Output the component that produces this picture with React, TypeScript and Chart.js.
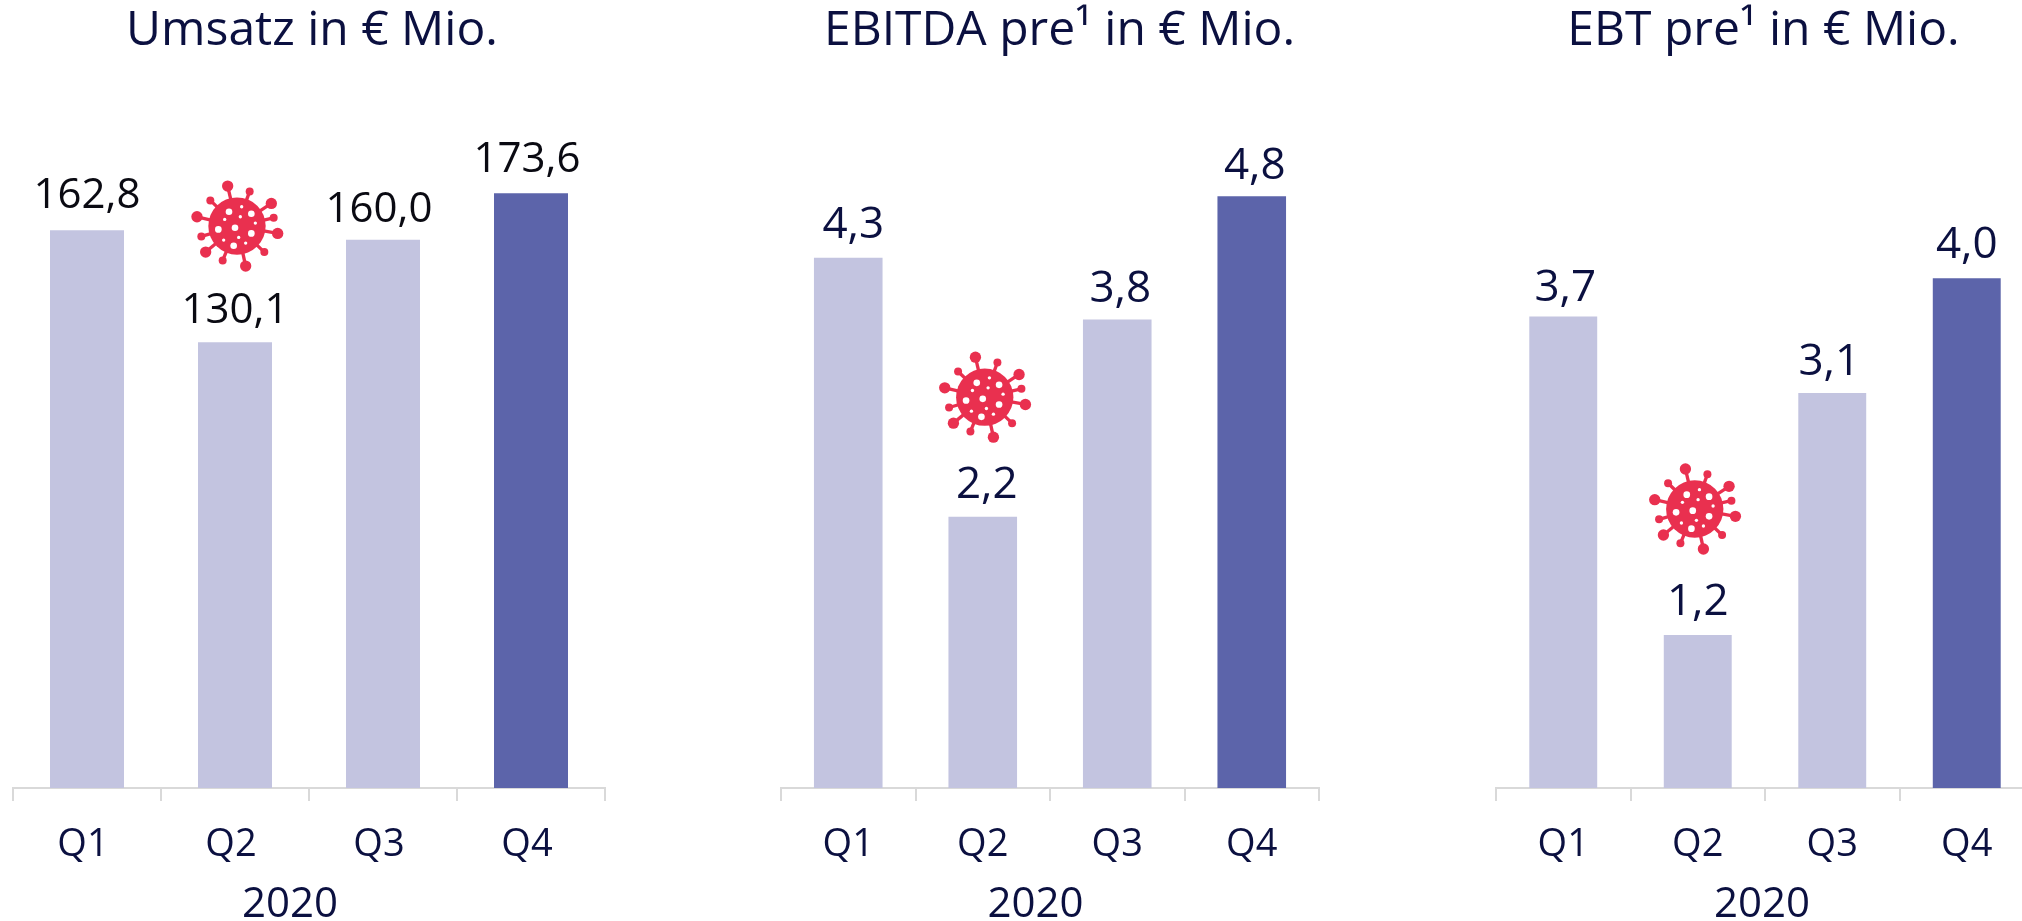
import React, { useEffect, useRef } from "react";
import { Chart, registerables } from "chart.js";

Chart.register(...registerables);

const quarters = ["Q1", "Q2", "Q3", "Q4"];
const yearLabel = "2020";
const umsatzValues = [162.8, 130.1, 160.0, 173.6];
const ebitdaValues = [4.3, 2.2, 3.8, 4.8];
const ebtValues = [3.7, 1.2, 3.1, 4.0];
const titles = ["Umsatz in € Mio.", "EBITDA pre¹ in € Mio.", "EBT pre¹ in € Mio."];
const virusLevels = [164, 3.17, 2.19];
const axisMax = [200.8, 5.58, 5.4];

const LIGHT = "#c3c4e0";
const DARK = "#5c64aa";
const NAVY = "#0b1040";
const AXIS = "#d9d9d9";
const FONT = "'Open Sans', sans-serif";

const panels = [
  { values: umsatzValues, title: titles[0], virus: virusLevels[0], virusDx: 2, max: axisMax[0], left: 0, width: 700, padL: 13, padR: 95, barPct: 0.5, labelColor: "#0a0a12", labelSize: 42, gap: 21, dx: [0, 0, -4, -4], dy: [-1, 2, 3, 0], titleX: 312, yearX: 290, tickShift: -4 },
  { values: ebitdaValues, title: titles[1], virus: virusLevels[1], virusDx: 2, max: axisMax[1], left: 700, width: 718, padL: 81, padR: 99, barPct: 0.51, labelColor: NAVY, labelSize: 44, gap: 17, dx: [5, 4, 3, 3], dy: [-3, -2, 0, 0], titleX: 1059.5, yearX: 1035.5, tickShift: 0 },
  { values: ebtValues, title: titles[2], virus: virusLevels[2], virusDx: -3, max: axisMax[2], left: 1440, width: 648, padL: 56, padR: 54, barPct: 0.505, labelColor: NAVY, labelSize: 44, gap: 20, dx: [2, 0, -3, 0], dy: [4, 0, 2, 0], titleX: 1763.5, yearX: 1762, tickShift: 0 },
];

const spikes = [
  [-28, -120, 17], [38, -104, 12], [103, -68, 17], [110, -25, 12], [122, 22, 17], [82, 78, 12],
  [26, 120, 17], [-43, 103, 12], [-94, 78, 17], [-107, 31, 12], [-120, -28, 17], [-80, -77, 12],
];
const holes = [
  [-24, -43, 10], [14, -58, 5], [43, -37, 10], [10, -28, 5], [-37, -20, 5], [55, -9, 5], [-56, 10, 10],
  [-6, 5, 10], [43, 22, 10], [5, 34, 5], [-40, 42, 5], [26, 51, 5], [-10, 59, 10],
];

function drawVirus(ctx: CanvasRenderingContext2D, cx: number, cy: number) {
  ctx.save();
  ctx.translate(cx, cy);
  ctx.scale(1 / 3, 1 / 3);
  ctx.fillStyle = "#e9304f";
  ctx.strokeStyle = "#e9304f";
  ctx.lineWidth = 10;
  for (const [x, y, r] of spikes) {
    ctx.beginPath();
    ctx.moveTo(0, 0);
    ctx.lineTo(x, y);
    ctx.stroke();
    ctx.beginPath();
    ctx.arc(x, y, r, 0, Math.PI * 2);
    ctx.fill();
  }
  ctx.beginPath();
  ctx.arc(0, 0, 86, 0, Math.PI * 2);
  ctx.fill();
  ctx.fillStyle = "#ffffff";
  for (const [x, y, r] of holes) {
    ctx.beginPath();
    ctx.arc(x, y, r, 0, Math.PI * 2);
    ctx.fill();
  }
  ctx.restore();
}

const decorations = {
  id: "decorations",
  afterDatasetsDraw(chart: any, _args: any, opts: any) {
    const { ctx, scales } = chart;
    const meta = chart.getDatasetMeta(0);
    const p = opts.panel;
    ctx.save();
    ctx.textAlign = "center";
    ctx.textBaseline = "alphabetic";
    ctx.font = `${p.labelSize}px ${FONT}`;
    ctx.fillStyle = p.labelColor;
    p.values.forEach((v: number, i: number) => {
      const el = meta.data[i];
      ctx.fillText(v.toFixed(1).replace(".", ","), el.x + p.dx[i], el.y - p.gap + p.dy[i]);
    });
    ctx.fillStyle = NAVY;
    ctx.font = `48px ${FONT}`;
    ctx.fillText(p.title, p.titleX - p.left, 45);
    ctx.font = `42px ${FONT}`;
    ctx.fillText(yearLabel, p.yearX - p.left, 917);
    ctx.restore();
    drawVirus(ctx, scales.x.getPixelForValue(1) + p.virusDx, scales.y.getPixelForValue(p.virus));
  },
};

function Panel({ p }: { p: (typeof panels)[number] }) {
  const ref = useRef<HTMLCanvasElement>(null);
  useEffect(() => {
    const chart = new Chart(ref.current!, {
      type: "bar",
      data: {
        labels: quarters,
        datasets: [
          {
            data: p.values,
            backgroundColor: [LIGHT, LIGHT, LIGHT, DARK],
            barPercentage: p.barPct,
            categoryPercentage: 1,
          },
        ],
      },
      options: {
        responsive: false,
        animation: false,
        layout: { padding: { top: 100, bottom: 0, left: p.padL, right: p.padR } },
        plugins: {
          legend: { display: false },
          tooltip: { enabled: false },
          title: { display: false },
          decorations: { panel: p },
        },
        scales: {
          x: {
            afterFit: (s: any) => {
              s.height = 133;
            },
            border: { color: AXIS, width: 2 },
            grid: { display: true, offset: true, drawOnChartArea: false, color: AXIS, lineWidth: 2, tickLength: 13, tickColor: AXIS },
            ticks: { color: NAVY, font: { family: FONT, size: 38 }, padding: 21, maxRotation: 0, labelOffset: p.tickShift },
          },
          y: { display: false, min: 0, max: p.max },
        },
      } as any,
      plugins: [decorations],
    });
    return () => chart.destroy();
  }, [p]);
  return (
    <canvas
      ref={ref}
      width={p.width}
      height={921}
      style={{ position: "absolute", left: p.left, top: 0, width: p.width, height: 921 }}
    />
  );
}

export default function App() {
  return (
    <div style={{ position: "fixed", left: 0, top: 0, width: 2022, height: 921, overflow: "hidden", background: "#fff" }}>
      {panels.map((p) => (
        <Panel key={p.title} p={p} />
      ))}
    </div>
  );
}
